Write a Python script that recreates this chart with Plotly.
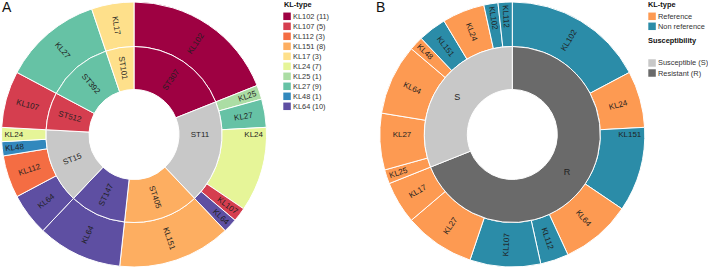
import plotly.graph_objects as go

W, H = 708, 269

# ---------------- Panel A data ----------------
kl_types = ["KL102", "KL107", "KL112", "KL151", "KL17", "KL24", "KL25", "KL27", "KL48", "KL64"]
kl_counts = [11, 5, 3, 8, 3, 7, 1, 9, 1, 10]
kl_colors = ["#9e0142", "#d53e4f", "#f46d43", "#fdae61", "#fee08b",
             "#e6f598", "#abdda4", "#66c2a5", "#3288bd", "#5e4fa2"]

# inner ring: sequence types, clockwise from 12 o'clock
st_names = ["ST307", "ST11", "ST405", "ST147", "ST15", "ST512", "ST392", "ST101"]
# outer ring: KL-type within each ST
a_outer_st = ["ST307", "ST11", "ST11", "ST11", "ST11", "ST11", "ST405", "ST147",
              "ST15", "ST15", "ST15", "ST15", "ST512", "ST392", "ST101"]
a_outer_kl = ["KL102", "KL25", "KL27", "KL24", "KL107", "KL64", "KL151", "KL64",
              "KL64", "KL112", "KL48", "KL24", "KL107", "KL27", "KL17"]
a_outer_n = [11, 1, 2, 6, 1, 1, 8, 6, 3, 3, 1, 1, 4, 7, 3]

# ---------------- Panel B data ----------------
susc_names = ["R", "S"]
susc_legend = ["Susceptible (S)", "Resistant (R)"]
b_outer_susc = ["R"] * 8 + ["S"] * 8
b_outer_kl = ["KL102", "KL24", "KL151", "KL64", "KL112", "KL107", "KL27", "KL17",
              "KL25", "KL27", "KL64", "KL48", "KL151", "KL24", "KL102", "KL112"]
b_outer_n = [10, 4, 6, 5, 2, 5, 5, 3, 1, 4, 5, 1, 2, 3, 1, 1]
reference_kl = ["KL17", "KL24", "KL25", "KL27", "KL48", "KL64"]
ref_legend = ["Reference", "Non reference"]

# ---------------- styles ----------------
MIXED = "#c8c8c8"
REF_COL = "#fd9a52"
NONREF_COL = "#2b8ca8"
S_COL = "#c8c8c8"
R_COL = "#6a6a6a"
TXT = "#1f1f1f"
FONT = "Liberation Sans, Arial, sans-serif"
LEG_SIZE = 7.4

kl_color = dict(zip(kl_types, kl_colors))


def dom(cx, cy, r):
    return dict(x=[(cx - r) / W, (cx + r) / W], y=[1 - (cy + r) / H, 1 - (cy - r) / H])


def px(x):
    return x / W


def py(y):
    return 1 - y / H


R_OUT, R_MID, R_HOLE = 132.5, 88.0, 45.0
ACX, ACY = 134.0, 134.5
BCX, BCY = 512.3, 134.5

# inner ring values / colours for A
st_vals, st_cols = [], []
for st in st_names:
    kls = [k for s, k in zip(a_outer_st, a_outer_kl) if s == st]
    st_vals.append(sum(n for s, n in zip(a_outer_st, a_outer_n) if s == st))
    st_cols.append(kl_color[kls[0]] if len(set(kls)) == 1 else MIXED)

fig = go.Figure()

line = dict(color="white", width=1)

fig.add_trace(go.Pie(
    labels=[f"{s} / {k} #{i}" for i, (s, k) in enumerate(zip(a_outer_st, a_outer_kl))],
    values=a_outer_n, text=a_outer_kl, textinfo="text",
    marker=dict(colors=[kl_color[k] for k in a_outer_kl], line=line),
    sort=False, direction="clockwise", rotation=0,
    hole=R_MID / R_OUT, domain=dom(ACX, ACY, R_OUT),
    textposition="inside", insidetextorientation="radial",
    textfont=dict(size=8, color=TXT, family=FONT), showlegend=False,
))
fig.add_trace(go.Pie(
    labels=st_names, values=st_vals, text=st_names, textinfo="text",
    marker=dict(colors=st_cols, line=line),
    sort=False, direction="clockwise", rotation=0,
    hole=R_HOLE / R_MID, domain=dom(ACX, ACY, R_MID),
    textposition="inside", insidetextorientation="radial",
    textfont=dict(size=8, color=TXT, family=FONT), showlegend=False,
))

# panel B
b_cols = [REF_COL if k in reference_kl else NONREF_COL for k in b_outer_kl]
susc_vals = [sum(n for s, n in zip(b_outer_susc, b_outer_n) if s == g) for g in susc_names]
fig.add_trace(go.Pie(
    labels=[f"{s} / {k} #{i}" for i, (s, k) in enumerate(zip(b_outer_susc, b_outer_kl))],
    values=b_outer_n, text=b_outer_kl, textinfo="text",
    marker=dict(colors=b_cols, line=line),
    sort=False, direction="clockwise", rotation=0,
    hole=R_MID / R_OUT, domain=dom(BCX, BCY, R_OUT),
    textposition="inside", insidetextorientation="radial",
    textfont=dict(size=8, color=TXT, family=FONT), showlegend=False,
))
fig.add_trace(go.Pie(
    labels=susc_names, values=susc_vals, text=susc_names, textinfo="text",
    marker=dict(colors=[R_COL, S_COL], line=line),
    sort=False, direction="clockwise", rotation=0,
    hole=R_HOLE / R_MID, domain=dom(BCX, BCY, R_MID),
    textposition="inside", insidetextorientation="horizontal",
    textfont=dict(size=9, color=TXT, family=FONT), showlegend=False,
))

annotations = []
shapes = []


def title(x, y, t):
    annotations.append(dict(x=px(x), y=py(y), xref="paper", yref="paper", text=f"<b>{t}</b>",
                            showarrow=False, xanchor="left", yanchor="middle", borderpad=0,
                            font=dict(size=LEG_SIZE, color="#111", family=FONT)))


def item(x, y, col, t):
    shapes.append(dict(type="rect", xref="paper", yref="paper",
                       x0=px(x), x1=px(x + 7.5), y0=py(y + 3.75), y1=py(y - 3.75),
                       fillcolor=col, line=dict(width=0)))
    annotations.append(dict(x=px(x + 9), y=py(y), xref="paper", yref="paper", text=t,
                            showarrow=False, xanchor="left", yanchor="middle", borderpad=0,
                            font=dict(size=LEG_SIZE, color="#333", family=FONT)))


# legend A
title(282.5, 4.5, "KL-type")
for i, (k, n, c) in enumerate(zip(kl_types, kl_counts, kl_colors)):
    item(283.3, 16.3 + 10 * i, c, f"{k} ({n})")

# legend B
title(647, 4, "KL-type")
for i, (t, c) in enumerate(zip(ref_legend, [REF_COL, NONREF_COL])):
    item(648.3, 16.3 + 10 * i, c, t)
title(647, 40, "Susceptibility")
for i, (t, c) in enumerate(zip(susc_legend, [S_COL, R_COL])):
    item(648.3, 63 + 10 * i, c, t)

# panel letters
for x, t in [(1, "A"), (375, "B")]:
    annotations.append(dict(x=px(x), y=py(6.5), xref="paper", yref="paper", text=t,
                            showarrow=False, xanchor="left", yanchor="middle", borderpad=0,
                            font=dict(size=14, color="#111", family=FONT)))

fig.update_layout(
    width=W, height=H, margin=dict(l=0, r=0, t=0, b=0),
    paper_bgcolor="white", plot_bgcolor="white", showlegend=False,
    annotations=annotations, shapes=shapes,
)

fig.write_html("out.html", config={"displayModeBar": False},
               post_script="document.body.style.margin='0';document.body.style.padding='0';"
                           "document.body.style.overflow='hidden';")
